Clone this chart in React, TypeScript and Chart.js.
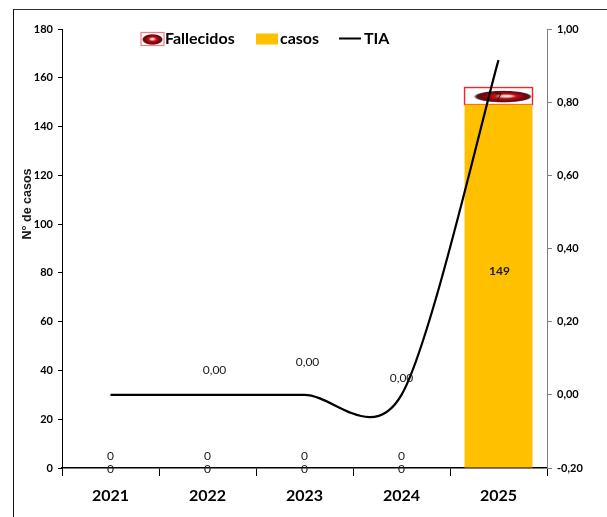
import React, { useEffect, useRef } from "react";
import { Chart, registerables } from "chart.js";

Chart.register(...registerables);

const categories = ["2021", "2022", "2023", "2024", "2025"];
const casos = [0, 0, 0, 0, 149];
const fallecidos = [0, 0, 0, 0, 7];
const tia = [0, 0, 0, 0, 0.915];
const tiaLabels = [null, "0,00", "0,00", "0,00", null];
const tiaLabelLift = [0, 25, 33, 17, 0];
const tiaLabelShift = [0, 7, 3, 0, 0];

const FONT = "Lato, 'Liberation Sans', sans-serif";
const commaFormat = (v: number) => (Math.abs(v) < 1e-9 ? 0 : v).toFixed(2).replace(".", ",");

function makeTexture(w: number, h: number, ellipseW: number, ellipseH: number, shift: number, glow: number) {
  const c = document.createElement("canvas");
  c.width = w * 2;
  c.height = h * 2;
  const g = c.getContext("2d")!;
  g.scale(2, 2);
  g.fillStyle = "#ffffff";
  g.fillRect(0, 0, w, h);
  g.save();
  g.translate(w / 2 + shift, h / 2 + 0.5);
  g.scale(ellipseW / 2, ellipseH / 2);
  const r = g.createRadialGradient(glow, -0.1, 0.02, 0, 0, 1);
  r.addColorStop(0, "#ffffff");
  r.addColorStop(0.14, "#f3c9c9");
  r.addColorStop(0.36, "#c80f16");
  r.addColorStop(0.72, "#7c0308");
  r.addColorStop(0.9, "#4a1c1e");
  r.addColorStop(1, "rgba(150,120,120,0)");
  g.fillStyle = r;
  g.beginPath();
  g.arc(0, 0, 1, 0, Math.PI * 2);
  g.fill();
  g.restore();
  return c;
}

const fallecidosBarPlugin = {
  id: "fallecidosBar",
  afterDatasetDraw(chart: any, args: any) {
    if (args.index !== 1) return;
    const ctx = chart.ctx;
    const bar = chart.getDatasetMeta(1).data[4];
    const x = bar.x - bar.width / 2;
    const w = bar.width;
    const h = bar.base - bar.y;
    ctx.save();
    ctx.drawImage(makeTexture(w, h, w - 9, h - 5, 4, 0.15), x, bar.y, w, h);
    ctx.strokeStyle = "#f0262c";
    ctx.lineWidth = 1.4;
    ctx.strokeRect(x, bar.y, w, h);
    ctx.restore();
  },
};

// Spreads the curve's control points the way the spreadsheet's smoothed line does.
const smoothPlugin = {
  id: "uniformSmooth",
  beforeDatasetsDraw(chart: any) {
    const meta = chart.getDatasetMeta(2);
    meta.dataset.updateControlPoints(chart.chartArea);
    const p = meta.data;
    p.forEach((pt: any, i: number) => {
      const prev = p[Math.max(i - 1, 0)];
      const next = p[Math.min(i + 1, p.length - 1)];
      const tx = (next.x - prev.x) * 0.15;
      const ty = (next.y - prev.y) * 0.15;
      pt.cp1x = pt.x - tx;
      pt.cp1y = pt.y - ty;
      pt.cp2x = pt.x + tx;
      pt.cp2y = pt.y + ty;
    });
  },
};

const labelsPlugin = {
  id: "valueLabels",
  afterDatasetsDraw(chart: any) {
    const ctx = chart.ctx;
    ctx.save();
    ctx.fillStyle = "#1a1a1a";
    ctx.textAlign = "center";
    ctx.textBaseline = "middle";
    const normal = `12px ${FONT}`;
    ctx.font = normal;
    const barsC = chart.getDatasetMeta(0).data;
    const barsF = chart.getDatasetMeta(1).data;
    const pts = chart.getDatasetMeta(2).data;
    categories.forEach((_, i) => {
      const barC = barsC[i];
      const barF = barsF[i];
      if (casos[i] === 0) {
        ctx.fillText(String(casos[i]), barC.x, barC.base + 1.5);
        ctx.fillText(String(fallecidos[i]), barF.x, barF.base - 12);
      } else {
        ctx.font = `bold 12px ${FONT}`;
        ctx.fillText(String(casos[i]), barC.x + 1, (barC.y + barC.base) / 2 - 15);
        ctx.font = normal;
        ctx.fillText(String(fallecidos[i]), barF.x, (barF.y + barF.base) / 2 + 1);
      }
      const t = tiaLabels[i];
      if (t) ctx.fillText(t, pts[i].x + tiaLabelShift[i], pts[i].y - tiaLabelLift[i]);
    });
    ctx.restore();
  },
};

const legendPlugin = {
  id: "customLegend",
  afterDraw(chart: any) {
    const ctx = chart.ctx;
    const y = 38.5;
    ctx.save();
    ctx.textBaseline = "middle";
    ctx.textAlign = "left";
    ctx.font = `bold 16px ${FONT}`;
    ctx.fillStyle = "#000";
    const ds = chart.data.datasets;
    ctx.drawImage(makeTexture(23, 13, 21, 11, 0, 0), 141, y - 6, 23, 13);
    ctx.strokeStyle = "#f77a7e";
    ctx.lineWidth = 1.2;
    ctx.strokeRect(141, y - 6, 23, 13);
    ctx.fillText(ds[1].label, 165, y);
    ctx.fillStyle = ds[0].backgroundColor;
    ctx.fillRect(256, y - 5, 22, 11);
    ctx.fillStyle = "#000";
    ctx.fillText(ds[0].label, 280, y);
    ctx.strokeStyle = "#000";
    ctx.lineWidth = 2;
    ctx.beginPath();
    ctx.moveTo(339, y);
    ctx.lineTo(361, y);
    ctx.stroke();
    ctx.fillText(ds[2].label, 364, y);
    ctx.restore();
  },
};

const axisTitlePlugin = {
  id: "axisTitle",
  afterDraw(chart: any) {
    const ctx = chart.ctx;
    ctx.save();
    ctx.translate(28, 204);
    ctx.rotate(-Math.PI / 2);
    ctx.textAlign = "center";
    ctx.textBaseline = "middle";
    ctx.fillStyle = "#1a1a1a";
    ctx.font = "bold 12.5px 'Liberation Sans', sans-serif";
    ctx.fillText("N° de casos", 0, 0);
    ctx.restore();
  },
};

export default function App() {
  const ref = useRef<HTMLCanvasElement>(null);
  useEffect(() => {
    const chart = new Chart(ref.current!, {
      type: "bar",
      data: {
        labels: categories,
        datasets: [
          { type: "bar", label: "casos", data: casos, backgroundColor: "#ffc000", stack: "s", yAxisID: "y", order: 2, categoryPercentage: 1, barPercentage: 0.7 },
          { type: "bar", label: "Fallecidos", data: fallecidos, backgroundColor: "rgba(0,0,0,0)", stack: "s", yAxisID: "y", order: 3, categoryPercentage: 1, barPercentage: 0.7 },
          { type: "line", label: "TIA", data: tia, borderColor: "#000", borderWidth: 2.2, pointRadius: 0, tension: 0.5, yAxisID: "y2", order: 1 },
        ] as any,
      },
      options: {
        responsive: false,
        animation: false,
        devicePixelRatio: 1,
        layout: { padding: { top: 29, left: 0, right: 0, bottom: 0 } },
        plugins: { legend: { display: false }, title: { display: false }, tooltip: { enabled: false } },
        scales: {
          x: {
            stacked: true,
            border: { color: "#000", width: 1.5 },
            grid: { drawOnChartArea: false, drawTicks: true, tickLength: 8, color: "#000", lineWidth: 1 },
            ticks: { color: "#000", font: { family: FONT, size: 16, weight: "bold" }, padding: 10, maxRotation: 0 },
            afterFit: (s: any) => { s.height = 49; },
          },
          y: {
            stacked: true,
            min: 0,
            max: 180,
            border: { color: "#000", width: 1 },
            grid: { drawOnChartArea: false, drawTicks: true, tickLength: 4, color: "#000" },
            ticks: { stepSize: 20, color: "#000", font: { family: FONT, size: 11, weight: "bold" }, padding: 5 },
            afterFit: (s: any) => { s.width = 62; s.paddingTop = 0; s.paddingBottom = 0; },
          },
          y2: {
            position: "right",
            min: -0.2,
            max: 1,
            border: { color: "#808080", width: 1 },
            grid: { drawOnChartArea: false, drawTicks: true, tickLength: 5, color: "#808080" },
            ticks: { stepSize: 0.2, color: "#000", font: { family: FONT, size: 11, weight: "bold" }, padding: 5, callback: (v: any) => commaFormat(Number(v)) },
            afterFit: (s: any) => { s.width = 60; s.paddingTop = 0; s.paddingBottom = 0; },
          },
        },
      } as any,
      plugins: [smoothPlugin, fallecidosBarPlugin, labelsPlugin, legendPlugin, axisTitlePlugin],
    });
    return () => chart.destroy();
  }, []);
  return (
    <div style={{ position: "fixed", left: 0, top: 0, width: 607, height: 517, background: "#fff", overflow: "hidden" }}>
      <canvas ref={ref} width={607} height={517} style={{ position: "absolute", left: 0, top: 0, display: "block" }} />
      <div style={{ position: "absolute", left: 13, top: 8.5, width: 594, height: 509, borderLeft: "1.5px solid #111", borderTop: "1.5px solid #333" }} />
    </div>
  );
}
